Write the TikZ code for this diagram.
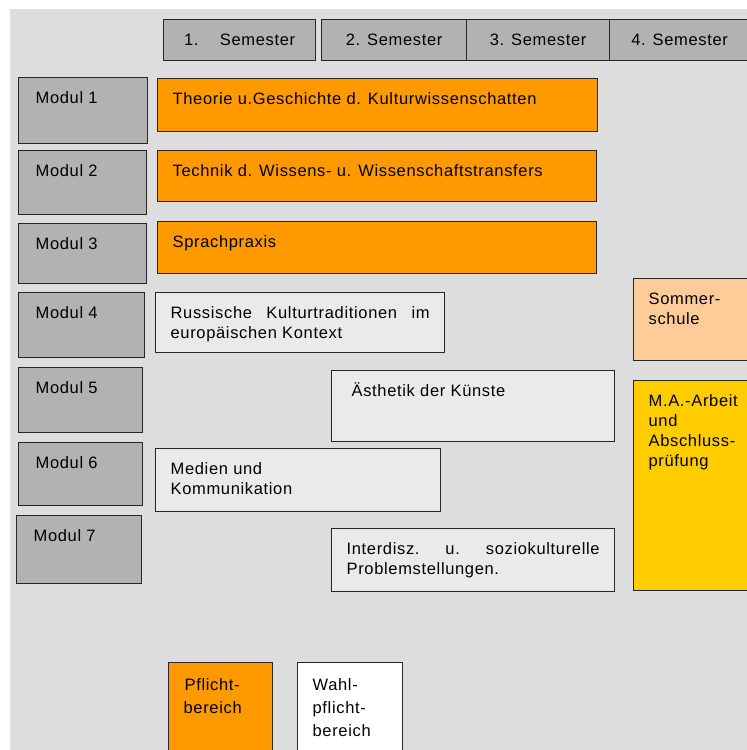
\documentclass[tikz,border=0pt]{standalone}
\usepackage{fontspec}
\setmainfont{Liberation Sans}[LetterSpace=4]
\usetikzlibrary{positioning}

\definecolor{bggray}{HTML}{DDDDDD}
\definecolor{modgray}{HTML}{B2B2B2}
\definecolor{pflicht}{HTML}{FF9900}
\definecolor{wahl}{HTML}{EAEAEA}
\definecolor{sommer}{HTML}{FFCC99}
\definecolor{arbeit}{HTML}{FFCC00}

% box of given size, text at the top left
\newcommand{\cellbox}[3]{%
  \parbox[c][#2][t]{#1}{\vspace*{12pt}\hspace*{15pt}%
    \parbox[t]{\dimexpr#1-30pt\relax}{\raggedright\strut#3}}}

\tikzset{
  cell/.style={draw=black!85, line width=1.3pt, anchor=north west, inner sep=0pt,
    font=\fontsize{16.5}{20}\selectfont},
  sem/.style={cell, fill=modgray, anchor=north west},
  modul/.style={cell, fill=modgray},
  pmod/.style={cell, fill=pflicht},
  wmod/.style={cell, fill=wahl},
}

\begin{document}
\begin{tikzpicture}[x=1pt, y=-1pt]
\clip (0,0) rectangle (747,750);
\fill[bggray] (10,9) rectangle (760,760);

% semester
\node[sem, minimum width=152pt, minimum height=41pt] (sem1) at (163,19) {1.\hspace{1.3em}Semester};
\node[sem, minimum width=145pt, minimum height=41pt] (sem2) at (321,19) {2. Semester};
\node[sem, minimum width=143pt, minimum height=41pt] (sem3) at (466,19) {3. Semester};
\node[sem, minimum width=140pt, minimum height=41pt] (sem4) at (609,19) {4. Semester};

% module
\node[modul] (modul1) at (18,77)  {\cellbox{129pt}{66pt}{\hspace*{2pt}Modul 1}};
\node[modul] (modul2) at (18,150) {\cellbox{128pt}{64pt}{\hspace*{2pt}Modul 2}};
\node[modul] (modul3) at (18,223) {\cellbox{128pt}{60pt}{\hspace*{2pt}Modul 3}};
\node[modul] (modul4) at (18,292) {\cellbox{126pt}{65pt}{\hspace*{2pt}Modul 4}};
\node[modul] (modul5) at (18,367) {\cellbox{124pt}{65pt}{\hspace*{2pt}Modul 5}};
\node[modul] (modul6) at (18,442) {\cellbox{124pt}{63pt}{\hspace*{2pt}Modul 6}};
\node[modul] (modul7) at (16,515) {\cellbox{125pt}{68pt}{\hspace*{2pt}Modul 7}};

% inhalte
\node[pmod] (theorie) at (157,78)  {\cellbox{440pt}{53pt}{Theorie u.Geschichte d. Kulturwissenschatten}};
\node[pmod] (technik) at (157,150) {\cellbox{439pt}{51pt}{Technik d. Wissens- u. Wissenschaftstransfers}};
\node[pmod] (sprache) at (157,221) {\cellbox{439pt}{52pt}{Sprachpraxis}};
\node[wmod] (russ)    at (155,292) {\cellbox{289pt}{60pt}{Russische\hfill Kulturtraditionen\hfill im\\europäischen Kontext}};
\node[wmod] (aesth)   at (331,370) {\cellbox{283pt}{71pt}{\hspace*{5pt}Ästhetik der Künste}};
\node[wmod] (medien)  at (155,448) {\cellbox{285pt}{63pt}{Medien und\\Kommunikation}};
\node[wmod] (interd)  at (331,528) {\cellbox{283pt}{63pt}{Interdisz.\hfill u.\hfill soziokulturelle\\Problemstellungen.}};
\node[cell, fill=sommer] (sommer) at (633,278) {\cellbox{120pt}{82pt}{Sommer-\\schule}};
\node[cell, fill=arbeit] (arbeit) at (633,380) {\cellbox{120pt}{210pt}{M.A.-Arbeit\\und\\Abschluss-\\prüfung}};

% legende
\node[pmod, font=\fontsize{16.5}{23}\selectfont] (pflicht) at (168,662) {\cellbox{104pt}{100pt}{\hspace*{1pt}Pflicht-\\bereich}};
\node[wmod, fill=white, font=\fontsize{16.5}{23}\selectfont] (wahl) at (297,662) {\cellbox{105pt}{100pt}{Wahl-\\pflicht-\\bereich}};
\end{tikzpicture}
\end{document}
